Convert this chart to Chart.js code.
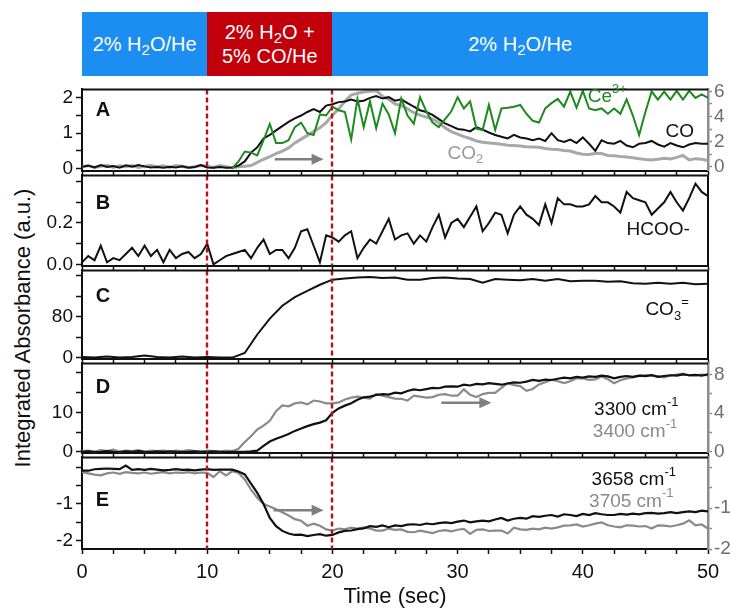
<!DOCTYPE html>
<html>
<head>
<meta charset="utf-8">
<script src="https://cdn.jsdelivr.net/npm/chart.js@4.4.1/dist/chart.umd.min.js"></script>
<style>
html, body { margin: 0; padding: 0; background: #fff; }
#wrap { position: relative; width: 732px; height: 611px; overflow: hidden; font-family: 'Liberation Sans', Arial, sans-serif; }
#wrap canvas { position: absolute; left: 0; }
.phase { position: absolute; top: 12px; height: 64px; color: #fff; font-size: 20px; line-height: 24px;
  display: flex; align-items: center; justify-content: center; text-align: center; }
.phase sub { font-size: 15px; vertical-align: -4px; line-height: 0; }
#ytitle { position: absolute; left: 23px; top: 328px; transform: translate(-50%, -50%) rotate(-90deg);
  white-space: nowrap; font-size: 22px; color: #111; }
</style>
</head>
<body>
<div id="wrap">
  <div id="ytitle">Integrated Absorbance (a.u.)</div>
  <canvas id="cA"></canvas>
  <canvas id="cB"></canvas>
  <canvas id="cC"></canvas>
  <canvas id="cD"></canvas>
  <canvas id="cE"></canvas>
</div>
<script>
// sample times (s)
const t05 = [
  0, 0.5, 1, 1.5, 2, 2.5, 3, 3.5, 4, 4.5,
  5, 5.5, 6, 6.5, 7, 7.5, 8, 8.5, 9, 9.5,
  10, 10.5, 11, 11.5, 12, 12.5, 13, 13.5, 14, 14.5,
  15, 15.5, 16, 16.5, 17, 17.5, 18, 18.5, 19, 19.5,
  20, 20.5, 21, 21.5, 22, 22.5, 23, 23.5, 24, 24.5,
  25, 25.5, 26, 26.5, 27, 27.5, 28, 28.5, 29, 29.5,
  30, 30.5, 31, 31.5, 32, 32.5, 33, 33.5, 34, 34.5,
  35, 35.5, 36, 36.5, 37, 37.5, 38, 38.5, 39, 39.5,
  40, 40.5, 41, 41.5, 42, 42.5, 43, 43.5, 44, 44.5,
  45, 45.5, 46, 46.5, 47, 47.5, 48, 48.5, 49, 49.5,
  50];
const t1 = [0, 1, 2, 3, 4, 5, 6, 7, 8, 9, 10, 11, 12, 13, 14, 15, 16, 17, 18, 19, 20,
  21, 22, 23, 24, 25, 26, 27, 28, 29, 30, 31, 32, 33, 34, 35, 36, 37, 38, 39, 40,
  41, 42, 43, 44, 45, 46, 47, 48, 49, 50];

// panel A
const coA = [
  0.05, 0.08, 0.03, 0.1, 0.04, 0.07, 0.02, 0.09, 0.05, 0.1,
  0.06, 0.03, 0.04, 0.02, 0.05, 0.03, 0.06, 0.02, 0.04, 0.1,
  0.03, 0.02, 0.04, 0.02, 0.03, 0.08, 0.2, 0.45, 0.6, 0.85,
  0.95, 1.08, 1.2, 1.32, 1.42, 1.5, 1.6, 1.68, 1.6, 1.78,
  1.82, 1.88, 1.9, 1.95, 1.9, 1.92, 2.0, 2.05, 1.98, 2.02,
  1.92, 1.96, 1.85, 1.75, 1.65, 1.6, 1.52, 1.4, 1.28, 1.2,
  1.12, 1.1, 1.05, 1.17, 1.1, 1.02, 0.95, 0.9, 0.85, 0.95,
  0.88, 0.85, 0.8, 0.85, 0.78, 1.0, 0.8, 0.75, 0.82, 0.72,
  0.88, 0.7, 0.5, 0.8, 0.72, 0.7, 0.78, 0.65, 0.6, 0.7,
  0.72, 0.78, 0.68, 0.62, 0.72, 0.65, 0.6, 0.68, 0.72, 0.7,
  0.7];
const co2A = [
  0.0, 0.1, -0.05, 0.05, 0.12, -0.05, 0.08, 0.0, 0.1, -0.05,
  0.05, 0.1, 0.0, 0.08, -0.05, 0.1, 0.05, -0.05, 0.0, 0.1,
  0.05, -0.05, 0.1, 0.0, -0.1, 0.0, 0.05, 0.1, 0.35, 0.6,
  0.8, 1.05, 1.25, 1.5, 1.9, 2.2, 2.5, 2.8, 3.1, 3.5,
  4.1, 4.6, 5.2, 5.7, 5.85, 5.95, 6.0, 6.05, 5.6, 5.35,
  5.0, 4.85, 4.6, 4.3, 4.1, 3.95, 3.8, 3.5, 3.1, 2.8,
  2.6, 2.4, 2.25, 2.05, 1.95, 1.9, 1.85, 1.8, 1.72, 1.7,
  1.65, 1.6, 1.58, 1.55, 1.45, 1.4, 1.38, 1.3, 1.25, 1.1,
  1.0, 0.98, 1.05, 1.05, 0.9, 0.88, 0.82, 0.78, 0.72, 0.65,
  0.58, 0.55, 0.6, 0.68, 0.62, 0.75, 0.9, 0.55, 0.65, 0.6,
  0.5];
const ceA = [
  null, null, null, null, null, null, null, null, null, null,
  null, null, null, null, null, null, null, null, null, null,
  null, null, null, null, 0.0, 0.2, 0.48, 0.45, 0.37, 0.8,
  1.26, 0.72, 0.72, 0.8, 1.17, 1.3, 1.0, 0.95, 1.53, 1.5,
  1.75, 1.65, 1.6, 0.82, 1.97, 1.17, 1.9, 1.14, 1.84, 1.53,
  1.0, 1.98, 1.5, 1.27, 2.02, 1.62, 1.3, 1.17, 1.4, 1.62,
  2.02, 1.7, 1.9, 1.13, 1.09, 1.8, 1.09, 1.7, 1.72, 1.75,
  1.8, 1.55, 1.35, 1.3, 1.7, 1.85, 1.97, 1.75, 2.18, 1.72,
  2.2, 1.7, 1.65, 1.7, 1.55, 1.7, 1.55, 1.96, 1.5, 0.95,
  1.6, 2.18, 1.95, 2.18, 1.95, 2.2, 1.95, 2.2, 2.0, 2.1,
  2.0];

// panel B
const hcooB = [
  0.01, 0.04, 0.02, 0.09, 0.01, 0.03, 0.02, 0.05, 0.08, 0.04,
  0.09, 0.04, 0.07, 0.01, 0.07, 0.03, 0.05, 0.06, 0.03, 0.05,
  0.1, 0.0, 0.02, 0.04, 0.05, 0.06, 0.07, 0.03, 0.08, 0.12,
  0.05, 0.07, 0.07, 0.03, 0.08, 0.16, 0.17, 0.09, 0.01, 0.14,
  0.13, 0.11, 0.14, 0.16, 0.03, 0.08, 0.12, 0.1, 0.16, 0.22,
  0.12, 0.14, 0.15, 0.1, 0.14, 0.11, 0.18, 0.24, 0.13, 0.2,
  0.22, 0.18, 0.23, 0.28, 0.16, 0.2, 0.25, 0.24, 0.15, 0.24,
  0.28, 0.24, 0.22, 0.19, 0.29, 0.2, 0.32, 0.29, 0.29, 0.28,
  0.28, 0.29, 0.33, 0.3, 0.3, 0.28, 0.25, 0.35, 0.32, 0.31,
  0.3, 0.24, 0.27, 0.3, 0.35, 0.3, 0.26, 0.32, 0.39, 0.35,
  0.33];

// panel C (1 s steps)
const co3C = [
  1, 0, 2, 0, 1, 4, 1, 0, 2, 0,
  1, 0, 0, 9, 45, 76, 101, 118, 130, 142,
  152, 154, 156, 157, 155, 156, 152, 152, 155, 156,
  154, 153, 146, 153, 152, 151, 153, 150, 153, 149,
  150, 150, 148, 149, 145, 144, 146, 144, 146, 143,
  144];

// panel D
const d3300 = [
  0, 0.1, -0.1, 0, 0.2, 0, -0.1, 0.1, 0, 0.2,
  0, -0.1, 0.1, 0, 0.1, 0, -0.1, 0, 0.1, 0,
  0, 0.1, 0, -0.1, 0, 0, 0, 0.1, 0.3, 1.5,
  2.6, 3.3, 3.9, 4.5, 5.3, 5.9, 6.5, 7.0, 7.4, 8.0,
  9.9, 11.0, 11.7, 12.3, 13.2, 13.8, 14.0, 14.4, 14.6, 14.5,
  15.0, 14.8, 15.4, 15.8, 15.6, 15.9, 16.2, 16.1, 16.5, 16.6,
  16.5, 17.0, 16.8, 17.2, 17.1, 17.4, 17.2, 17.0, 17.3, 17.6,
  17.5, 17.8, 18.2, 18.0, 18.3, 18.2, 18.5, 18.8, 18.6, 19.0,
  18.8, 19.1, 19.0, 19.3, 19.1, 18.6, 19.0, 19.2, 19.0, 19.3,
  19.2, 19.4, 19.0, 19.2, 19.4, 19.3, 19.6, 19.4, 19.5, 19.3,
  19.6];
const d3400 = [
  0.05, 0.1, 0, 0.15, 0.05, 0.2, 0, 0.1, 0.05, 0.15,
  0, 0.1, 0.05, 0.1, 0, 0.1, 0.05, 0.15, 0.05, 0,
  0.1, 0.05, 0, 0.1, 0.05, 0.3, 1.0, 1.6, 2.3, 2.7,
  3.2, 4.2, 4.8, 4.7, 5.0, 5.1, 4.9, 5.3, 5.2, 5.0,
  5.0, 5.1, 5.4, 5.6, 5.7, 5.6, 5.5, 5.97, 5.8, 5.65,
  5.5, 5.48, 5.3, 5.8, 5.7, 5.6, 5.65, 5.9, 5.97, 5.8,
  5.8, 6.46, 5.9, 5.65, 5.97, 6.1, 6.1, 6.6, 7.1, 6.9,
  6.8, 6.3, 6.5, 6.97, 7.2, 7.45, 7.3, 7.1, 7.3, 7.6,
  7.6, 7.45, 7.5, 7.8, 7.5, 7.1, 7.4, 7.6, 7.7, 7.86,
  7.9, 7.9, 7.8, 7.7, 7.9, 8.0, 8.1, 7.9, 7.9, 8.0,
  7.9];

// panel E
const e3658 = [
  -0.1, -0.1, -0.06, -0.05, -0.04, -0.05, -0.06, 0.04, -0.08, -0.06,
  -0.08, -0.05, -0.07, -0.09, -0.08, -0.06, -0.08, -0.07, -0.09, -0.07,
  -0.06, -0.08, -0.07, -0.07, -0.07, -0.12, -0.2, -0.45, -0.7, -1.0,
  -1.38, -1.6, -1.73, -1.8, -1.84, -1.83, -1.87, -1.84, -1.82, -1.86,
  -1.84, -1.77, -1.73, -1.72, -1.68, -1.66, -1.6, -1.62, -1.58, -1.63,
  -1.58, -1.6, -1.56, -1.55, -1.57, -1.53, -1.55, -1.52, -1.5, -1.52,
  -1.48, -1.45, -1.5, -1.47, -1.45, -1.47, -1.42, -1.38, -1.45, -1.4,
  -1.38, -1.4, -1.33, -1.35, -1.32, -1.3, -1.34, -1.28, -1.3, -1.33,
  -1.27, -1.3, -1.25, -1.28, -1.3, -1.3, -1.27, -1.29, -1.26, -1.28,
  -1.25, -1.24, -1.26, -1.25, -1.22, -1.25, -1.22, -1.2, -1.22, -1.18,
  -1.2];
const e3705 = [
  -0.12, -0.15, -0.18, -0.2, -0.15, -0.13, -0.16, -0.12, -0.14, -0.15,
  -0.13, -0.16, -0.14, -0.12, -0.15, -0.13, -0.14, -0.12, -0.15, -0.13,
  -0.14, -0.24, -0.1, -0.2, -0.1, -0.14, -0.3, -0.55, -0.75, -0.9,
  -0.96, -1.03, -1.1, -1.18, -1.27, -1.31, -1.43, -1.38, -1.43, -1.52,
  -1.55, -1.5, -1.52, -1.48, -1.5, -1.47, -1.5, -1.55, -1.55, -1.5,
  -1.53, -1.52, -1.58, -1.59, -1.55, -1.58, -1.61, -1.56, -1.54, -1.57,
  -1.53, -1.51, -1.63, -1.53, -1.52, -1.56, -1.55, -1.55, -1.62, -1.48,
  -1.52, -1.53, -1.5, -1.52, -1.48, -1.5, -1.47, -1.43, -1.42, -1.4,
  -1.45, -1.42, -1.38, -1.35, -1.42, -1.45, -1.47, -1.42, -1.43, -1.45,
  -1.44, -1.5, -1.42, -1.43, -1.45, -1.42, -1.38, -1.3, -1.42, -1.4,
  -1.5];

// ticks
const xTicks = [0, 2.5, 5, 7.5, 10, 12.5, 15, 17.5, 20, 22.5, 25, 27.5, 30, 32.5, 35, 37.5, 40, 42.5, 45, 47.5, 50];
const xLabels = [0, 10, 20, 30, 40, 50];
const yTicksA = [0, 0.5, 1, 1.5, 2], yLabelsA = [0, 1, 2];
const y2TicksA = [0, 1, 2, 3, 4, 5, 6], y2LabelsA = [0, 2, 4, 6];
const yTicksB = [0, 0.1, 0.2, 0.3, 0.4], yLabelsB = [0, 0.2];
const yTicksC = [0, 40, 80, 120, 160], yLabelsC = [0, 80];
const yTicksD = [0, 5, 10, 15, 20], yLabelsD = [0, 10];
const y2TicksD = [0, 2, 4, 6, 8], y2LabelsD = [0, 4, 8];
const yTicksE = [0, -0.5, -1, -1.5, -2], yLabelsE = [-1, -2];
const y2TicksE = [0, -0.5, -1, -1.5, -2], y2LabelsE = [-1, -2];

// gas switching
const switchTimes = [10, 20];
const phaseEdges = [0, 10, 20, 50];
const phaseLabels = ['2% H<sub>2</sub>O/He', '2% H<sub>2</sub>O +<br>5% CO/He', '2% H<sub>2</sub>O/He'];
const phaseColors = ['#1c8ef2', '#c2000b', '#1c8ef2'];

const FONT = "'Liberation Sans', Arial, sans-serif";
Chart.defaults.font.family = FONT;
Chart.defaults.color = '#111';

const BLACK = '#111', GREY = '#8a8a8a', LIGHT = '#a8a8a8', GREEN = '#1d8a1d';

function pts(ts, vs) { return ts.map((t, i) => ({ x: t, y: vs[i] })); }

function richText(ctx, parts, x, y, color, size) {
  let cx = x;
  ctx.fillStyle = color;
  ctx.textAlign = 'left';
  ctx.textBaseline = 'middle';
  parts.forEach(([txt, mode]) => {
    const fs = mode ? Math.round(size * 0.68) : size;
    ctx.font = fs + 'px ' + FONT;
    const dy = mode === 'sub' ? size * 0.32 : mode === 'sup' ? -size * 0.4 : 0;
    ctx.fillText(txt, cx, y + dy);
    cx += ctx.measureText(txt).width;
  });
}

const decor = {
  id: 'decor',
  afterDatasetsDraw(chart, args, o) {
    const { ctx, chartArea: a, scales } = chart;
    const xs = scales.x;
    ctx.save();
    ctx.strokeStyle = '#b5121b';
    ctx.lineWidth = 2.4;
    ctx.setLineDash([5, 3]);
    switchTimes.forEach(v => {
      const px = Math.round(xs.getPixelForValue(v));
      ctx.beginPath(); ctx.moveTo(px, a.top); ctx.lineTo(px, a.bottom); ctx.stroke();
    });
    ctx.setLineDash([]);
    ctx.strokeStyle = BLACK;
    ctx.lineWidth = 2;
    ctx.beginPath(); ctx.moveTo(a.left - 1, a.top); ctx.lineTo(a.right, a.top); ctx.stroke();
    if (!scales.y2) {
      ctx.beginPath(); ctx.moveTo(a.right, a.top); ctx.lineTo(a.right, a.bottom); ctx.stroke();
    }
    if (o.arrow) {
      const ar = o.arrow;
      const y = scales.y.getPixelForValue(ar.y);
      const x1 = xs.getPixelForValue(ar.x1), x2 = xs.getPixelForValue(ar.x2);
      ctx.strokeStyle = '#7f7f7f'; ctx.fillStyle = '#7f7f7f'; ctx.lineWidth = 2.5;
      ctx.beginPath(); ctx.moveTo(x1, y); ctx.lineTo(x2 - 10, y); ctx.stroke();
      ctx.beginPath(); ctx.moveTo(x2, y); ctx.lineTo(x2 - 12, y - 5.5); ctx.lineTo(x2 - 12, y + 5.5); ctx.closePath(); ctx.fill();
    }
    if (o.letter) {
      ctx.fillStyle = BLACK;
      ctx.font = 'bold 20px ' + FONT;
      ctx.textAlign = 'left'; ctx.textBaseline = 'middle';
      ctx.fillText(o.letter.text, xs.getPixelForValue(o.letter.x), scales.y.getPixelForValue(o.letter.y));
    }
    (o.labels || []).forEach(l => {
      richText(ctx, l.parts, xs.getPixelForValue(l.x), scales.y.getPixelForValue(l.y), l.color || BLACK, 19);
    });
    ctx.restore();
  }
};

function axis(spec, side) {
  const right = side === 'right';
  const col = right ? '#8c8c8c' : BLACK;
  return {
    position: side,
    min: spec.min,
    max: spec.max,
    afterBuildTicks: s => { s.ticks = spec.ticks.map(v => ({ value: v })); },
    afterFit: s => { s.width = right ? 24 : 82; },
    ticks: {
      autoSkip: false,
      padding: right ? 2 : 3,
      color: right ? '#6e6e6e' : BLACK,
      font: { size: 19 },
      callback: v => spec.labels.includes(v) ? (spec.fmt ? spec.fmt(v) : String(v)) : ''
    },
    grid: { drawOnChartArea: false, tickLength: right ? 4 : 6, tickColor: col, tickWidth: 1.5 },
    border: { color: col, width: right ? 2.5 : 2 }
  };
}

function makePanel(p) {
  const cv = document.getElementById(p.canvas);
  const padTop = 12;
  const xh = p.last ? 611 - p.bottom : 12;
  cv.width = 732;
  cv.height = padTop + (p.bottom - p.top) + xh;
  cv.style.top = (p.top - padTop) + 'px';
  const scales = {
    x: {
      type: 'linear', min: 0, max: 50,
      afterBuildTicks: s => { s.ticks = xTicks.map(v => ({ value: v })); },
      afterFit: s => { s.height = xh; },
      ticks: {
        display: !!p.last, autoSkip: false, maxRotation: 0, padding: 6, font: { size: 20 }, color: BLACK,
        callback: v => xLabels.includes(v) ? String(v) : ''
      },
      grid: { drawOnChartArea: false, tickLength: 5, tickColor: BLACK, tickWidth: 1.5 },
      border: { color: BLACK, width: 2 },
      title: p.last
        ? { display: true, text: 'Time (sec)', font: { size: 22 }, color: BLACK, padding: { top: 0, bottom: 1 } }
        : { display: false }
    },
    y: axis(p.left, 'left')
  };
  if (p.right) scales.y2 = axis(p.right, 'right');
  return new Chart(cv, {
    type: 'line',
    data: {
      datasets: p.series.map(s => ({
        data: pts(s.t, s.v),
        borderColor: s.color,
        borderWidth: s.w,
        yAxisID: s.axis || 'y',
        pointRadius: 0,
        fill: false,
        tension: 0,
        spanGaps: false
      }))
    },
    options: {
      responsive: false,
      animation: false,
      layout: { padding: { top: padTop, left: 0, right: p.right ? 0 : 24, bottom: 0 } },
      plugins: { legend: { display: false }, tooltip: { enabled: false }, decor: p.decor },
      scales
    },
    plugins: [decor]
  });
}

const charts = [
  makePanel({
    canvas: 'cA', top: 87, bottom: 173,
    left: { min: -0.06, max: 2.24, ticks: yTicksA, labels: yLabelsA },
    right: { min: -0.3, max: 6.15, ticks: y2TicksA, labels: y2LabelsA },
    series: [
      { t: t05, v: ceA, color: GREEN, w: 2 },
      { t: t05, v: coA, color: BLACK, w: 2 },
      { t: t05, v: co2A, color: LIGHT, w: 3, axis: 'y2' }
    ],
    decor: {
      letter: { text: 'A', x: 1.1, y: 1.65 },
      arrow: { x1: 15.4, x2: 19.3, y: 0.26 },
      labels: [
        { x: 40.4, y: 2.03, color: GREEN, parts: [['Ce'], ['3+', 'sup']] },
        { x: 46.6, y: 1.05, parts: [['CO']] },
        { x: 29.2, y: 0.42, color: '#9a9a9a', parts: [['CO'], ['2', 'sub']] }
      ]
    }
  }),
  makePanel({
    canvas: 'cB', top: 173, bottom: 268,
    left: { min: -0.006, max: 0.43, ticks: yTicksB, labels: yLabelsB, fmt: v => v.toFixed(1) },
    series: [{ t: t05, v: hcooB, color: BLACK, w: 2 }],
    decor: {
      letter: { text: 'B', x: 1.1, y: 0.294 },
      labels: [{ x: 43.5, y: 0.169, parts: [['HCOO-']] }]
    }
  }),
  makePanel({
    canvas: 'cC', top: 268, bottom: 361,
    left: { min: -2, max: 170, ticks: yTicksC, labels: yLabelsC },
    series: [{ t: t1, v: co3C, color: BLACK, w: 2 }],
    decor: {
      letter: { text: 'C', x: 1.1, y: 120 },
      labels: [{ x: 45.0, y: 93, parts: [['CO'], ['3', 'sub'], ['=', 'sup']] }]
    }
  }),
  makePanel({
    canvas: 'cD', top: 361, bottom: 455,
    left: { min: -0.2, max: 22.4, ticks: yTicksD, labels: yLabelsD },
    right: { min: -0.1, max: 9.15, ticks: y2TicksD, labels: y2LabelsD },
    series: [
      { t: t05, v: d3300, color: BLACK, w: 2.2 },
      { t: t05, v: d3400, color: GREY, w: 2.2, axis: 'y2' }
    ],
    decor: {
      letter: { text: 'D', x: 1.1, y: 16.4 },
      arrow: { x1: 28.7, x2: 32.7, y: 12.4 },
      labels: [
        { x: 40.9, y: 10.6, parts: [['3300 cm'], ['-1', 'sup']] },
        { x: 40.8, y: 5.1, color: GREY, parts: [['3400 cm'], ['-1', 'sup']] }
      ]
    }
  }),
  makePanel({
    canvas: 'cE', top: 455, bottom: 549, last: true,
    left: { min: -2.22, max: 0.26, ticks: yTicksE, labels: yLabelsE },
    right: { min: -2.0, max: 0.24, ticks: y2TicksE, labels: y2LabelsE },
    series: [
      { t: t05, v: e3658, color: BLACK, w: 2.2 },
      { t: t05, v: e3705, color: GREY, w: 2.2, axis: 'y2' }
    ],
    decor: {
      letter: { text: 'E', x: 1.1, y: -0.9 },
      arrow: { x1: 15.3, x2: 19.3, y: -1.17 },
      labels: [
        { x: 40.7, y: -0.35, parts: [['3658 cm'], ['-1', 'sup']] },
        { x: 40.5, y: -0.93, color: GREY, parts: [['3705 cm'], ['-1', 'sup']] }
      ]
    }
  })
];

// gas-phase header boxes placed on the shared time scale
const wrap = document.getElementById('wrap');
const xs = charts[0].scales.x;
phaseLabels.forEach((html, i) => {
  const d = document.createElement('div');
  d.className = 'phase';
  const x0 = xs.getPixelForValue(phaseEdges[i]);
  const x1 = xs.getPixelForValue(phaseEdges[i + 1]);
  d.style.left = x0 + 'px';
  d.style.width = (x1 - x0) + 'px';
  d.style.background = phaseColors[i];
  const inner = document.createElement('span');
  inner.innerHTML = html;
  d.appendChild(inner);
  wrap.appendChild(d);
});
</script>
</body>
</html>
